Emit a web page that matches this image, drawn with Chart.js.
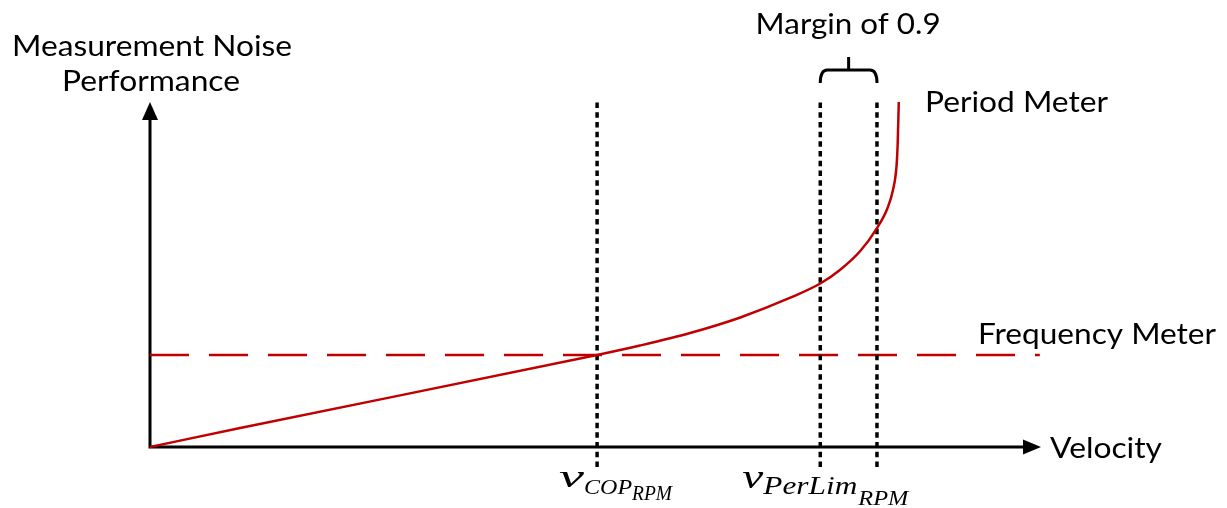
<!DOCTYPE html>
<html>
<head>
<meta charset="utf-8">
<title>Measurement Noise Performance vs Velocity</title>
<script src="https://cdn.jsdelivr.net/npm/chart.js@4/dist/chart.umd.min.js"></script>
<style>
  html, body { margin: 0; padding: 0; background: #ffffff; }
  #wrap { width: 1227px; height: 508px; }
</style>
</head>
<body>
<div id="wrap"><canvas id="chart" width="1227" height="508"></canvas></div>
<script>
// Velocity normalised so that the period-meter limit v_PerLim = 1,
// noise normalised so that the frequency meter's level = 1.
const velocity    = [0, 0.124, 0.615, 0.674, 0.743, 0.812, 0.880, 0.922, 0.949, 0.977, 1.000, 1.014, 1.022, 1.027, 1.0285, 1.030];
const periodNoise = [0, 0.207, 1.000, 1.103, 1.239, 1.408, 1.620, 1.777, 1.924, 2.130, 2.380, 2.587, 2.793, 3.065, 3.304, 3.750];

const frequencyVelocity = [0, 1.224];
const frequencyNoise    = [1, 1];

// marker velocities: crossover point, 0.9-margin point, period-meter limit
const markerNames    = ['COP', 'Margin', 'PerLim'];
const markerVelocity = [0.615, 0.922, 1.000];
const markerSpan     = [-0.217, 3.753];

const axisRange = { xMin: 0, xMax: 1.227, yMin: -0.25, yMax: 3.772 };

const RED = '#c00000';
const toPoints = (xs, ys) => xs.map((x, i) => ({ x, y: ys[i] }));

const markerSets = markerVelocity.map((v, i) => ({
  label: markerNames[i],
  data: markerSpan.map(y => ({ x: v, y })),
  borderColor: '#000000',
  borderWidth: 3.5,
  borderDash: [5.5, 4.2],
  tension: 0,
  order: 1
}));

// draws a text run stretched to a given width, left edge at x
function fitText(ctx, text, font, x, baseline, width) {
  ctx.font = font;
  const w = ctx.measureText(text).width;
  ctx.save();
  ctx.translate(x, baseline);
  ctx.scale(width / w, 1);
  ctx.textAlign = 'left';
  ctx.textBaseline = 'alphabetic';
  ctx.fillText(text, 0, 0);
  ctx.restore();
}

const axesPlugin = {
  id: 'arrowAxes',
  beforeDatasetsDraw(chart) {
    const { ctx, scales: { x, y } } = chart;
    const ox = x.getPixelForValue(0), oy = y.getPixelForValue(0);
    const xTip = x.getPixelForValue(axisRange.xMax) - 1;
    const yTip = chart.chartArea.top + 2;
    ctx.save();
    ctx.strokeStyle = '#000'; ctx.fillStyle = '#000'; ctx.lineWidth = 3;
    ctx.beginPath();
    ctx.moveTo(ox, oy); ctx.lineTo(ox, yTip + 16);
    ctx.moveTo(ox - 1.5, oy); ctx.lineTo(xTip - 16, oy);
    ctx.stroke();
    ctx.beginPath();
    ctx.moveTo(ox, yTip); ctx.lineTo(ox - 8, yTip + 18); ctx.lineTo(ox + 8, yTip + 18); ctx.closePath();
    ctx.fill();
    ctx.beginPath();
    ctx.moveTo(xTip, oy); ctx.lineTo(xTip - 18, oy - 7.5); ctx.lineTo(xTip - 18, oy + 7.5); ctx.closePath();
    ctx.fill();
    ctx.restore();
  },
  afterDatasetsDraw(chart) {
    const { ctx, scales: { x } } = chart;
    const top = chart.chartArea.top;
    const ox = x.getPixelForValue(0);
    const cop = x.getPixelForValue(markerVelocity[0]);
    const mar = x.getPixelForValue(markerVelocity[1]);
    const lim = x.getPixelForValue(markerVelocity[2]);
    const mid = (mar + lim) / 2;

    // brace over the margin interval
    ctx.save();
    ctx.strokeStyle = '#000'; ctx.lineWidth = 3; ctx.lineCap = 'butt';
    const bEnd = top - 17, bBar = top - 30, r = 7;
    ctx.beginPath();
    ctx.moveTo(mar, bEnd);
    ctx.quadraticCurveTo(mar, bBar, mar + r, bBar);
    ctx.lineTo(lim - r, bBar);
    ctx.quadraticCurveTo(lim, bBar, lim, bEnd);
    ctx.moveTo(mid, bBar); ctx.lineTo(mid, bBar - 13);
    ctx.stroke();
    ctx.restore();

    ctx.save();
    ctx.fillStyle = '#000';
    const sans = '29px Lato, "Open Sans", sans-serif';
    fitText(ctx, 'Margin of 0.9', sans, mid - 93, 34, 185);
    fitText(ctx, 'Measurement Noise', sans, ox - 138, 56, 280);
    fitText(ctx, 'Performance', sans, ox - 88, 91, 178);
    fitText(ctx, 'Period Meter', sans, 925, 112, 183);
    fitText(ctx, 'Frequency Meter', sans, 978, 344, 238);
    fitText(ctx, 'Velocity', sans, 1050, 458, 112);

    // subscripted velocity labels
    const serif = s => 'italic ' + s + 'px "Liberation Serif", "DejaVu Serif", serif';
    fitText(ctx, 'v', serif(32), cop - 38, 487, 25);
    fitText(ctx, 'COP', serif(21), cop - 13, 494, 48);
    fitText(ctx, 'RPM', serif(20), cop + 35, 500, 40);

    fitText(ctx, 'v', serif(33), mar - 78, 488, 21);
    fitText(ctx, 'PerLim', serif(25), mar - 57, 494, 94);
    fitText(ctx, 'RPM', serif(22), mar + 38, 505, 50);
    ctx.restore();
  }
};

new Chart(document.getElementById('chart'), {
  type: 'line',
  data: {
    datasets: [
      {
        label: 'Period Meter',
        data: toPoints(velocity, periodNoise),
        borderColor: RED,
        borderWidth: 2.5,
        cubicInterpolationMode: 'monotone',
        order: 0
      },
      ...markerSets,
      {
        label: 'Frequency Meter',
        data: toPoints(frequencyVelocity, frequencyNoise),
        borderColor: RED,
        borderWidth: 2.5,
        borderDash: [39, 20],
        tension: 0,
        order: 2
      }
    ].map(d => Object.assign({ pointRadius: 0, fill: false }, d))
  },
  options: {
    responsive: false,
    animation: false,
    devicePixelRatio: 1,
    layout: { padding: { left: 150, right: 185, top: 100, bottom: 38 } },
    scales: {
      x: { type: 'linear', min: axisRange.xMin, max: axisRange.xMax, display: false },
      y: { type: 'linear', min: axisRange.yMin, max: axisRange.yMax, display: false }
    },
    plugins: { legend: { display: false }, tooltip: { enabled: false } }
  },
  plugins: [axesPlugin]
});
</script>
</body>
</html>
